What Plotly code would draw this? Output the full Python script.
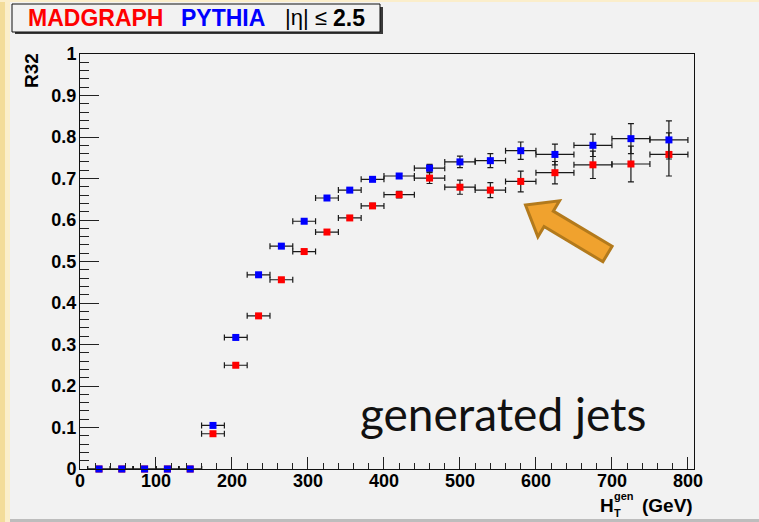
import plotly.graph_objects as go
import math

# ---------------- data ----------------
ht_center = [25, 55, 85, 115, 145, 175, 205, 235, 265, 295, 325, 355, 385,
             420, 460, 500, 540, 580, 625, 675, 725, 775]
ht_halfwidth = [15, 15, 15, 15, 15, 15, 15, 15, 15, 15, 15, 15, 15,
                20, 20, 20, 20, 20, 25, 25, 25, 25]

r32_pythia = [0, 0, 0, 0, 0, 0.105, 0.317, 0.468, 0.537, 0.597, 0.653, 0.672,
              0.698, 0.706, 0.725, 0.740, 0.743, 0.767, 0.758, 0.780, 0.796, 0.793]
err_pythia = [0, 0, 0, 0, 0, 0.003, 0.004, 0.004, 0.004, 0.004, 0.004, 0.004,
              0.005, 0.006, 0.009, 0.014, 0.017, 0.021, 0.025, 0.027, 0.036, 0.046]

r32_madgraph = [0, 0, 0, 0, 0, 0.085, 0.250, 0.369, 0.456, 0.524, 0.571, 0.605,
                0.634, 0.661, 0.701, 0.679, 0.672, 0.693, 0.714, 0.733, 0.735, 0.758]
err_madgraph = [0, 0, 0, 0, 0, 0.003, 0.004, 0.004, 0.004, 0.004, 0.005, 0.005,
                0.006, 0.008, 0.013, 0.017, 0.018, 0.025, 0.027, 0.033, 0.043, 0.052]

# ---------------- geometry helpers ----------------
W, H = 759, 522
L, R, T, B = 80, 694, 54, 469  # plot frame in pixels
PW, PH = R - L, B - T


def px(x):
    return (x - L) / PW


def py(y):
    return (B - y) / PH


BOLD = "Liberation Sans"

fig = go.Figure()

for yv, ev, col in [(r32_madgraph, err_madgraph, "#ff0000"),
                    (r32_pythia, err_pythia, "#0000ff")]:
    fig.add_trace(go.Scatter(
        x=ht_center, y=yv, mode="markers",
        marker=dict(symbol="square", size=7, color=col, line=dict(width=0)),
        error_x=dict(type="data", array=ht_halfwidth, visible=True,
                     color="#1a1a1a", thickness=1.2, width=3),
        error_y=dict(type="data", array=ev, visible=True,
                     color="#1a1a1a", thickness=1.2, width=3),
        cliponaxis=False, showlegend=False))

shapes = []
# slide background strips (cream left / top, grey bottom)
shapes.append(dict(type="rect", xref="paper", yref="paper", layer="below",
                   x0=px(0), x1=px(5), y0=py(H), y1=py(0),
                   fillcolor="#f3dc9a", line=dict(width=0)))
shapes.append(dict(type="rect", xref="paper", yref="paper", layer="below",
                   x0=px(5), x1=px(10), y0=py(H), y1=py(0),
                   fillcolor="#fbeecb", line=dict(width=0)))
shapes.append(dict(type="rect", xref="paper", yref="paper", layer="below",
                   x0=px(0), x1=px(W), y0=py(2), y1=py(0),
                   fillcolor="#fbeecb", line=dict(width=0)))
shapes.append(dict(type="rect", xref="paper", yref="paper", layer="below",
                   x0=px(10), x1=px(W), y0=py(H), y1=py(519),
                   fillcolor="#bdbdbd", line=dict(width=0)))

# legend box with shadow
shapes.append(dict(type="rect", xref="paper", yref="paper",
                   x0=px(15), x1=px(383), y0=py(34), y1=py(7),
                   fillcolor="#3a3a3a", line=dict(width=0)))
shapes.append(dict(type="rect", xref="paper", yref="paper",
                   x0=px(12), x1=px(380), y0=py(32), y1=py(4),
                   fillcolor="#f2f2f2", line=dict(color="#111111", width=1)))

# orange block arrow (pixel geometry)
tip = (525.5, 205.0)
tail = (607.5, 254.0)
dx, dy = tip[0] - tail[0], tip[1] - tail[1]
ln = math.hypot(dx, dy)
ux, uy = dx / ln, dy / ln
nx, ny = -uy, ux
shaft_hw, head_hw, head_len = 9.0, 21.0, 27.0
bx, by = tip[0] - ux * head_len, tip[1] - uy * head_len
pts = [
    (tail[0] + nx * shaft_hw, tail[1] + ny * shaft_hw),
    (bx + nx * shaft_hw, by + ny * shaft_hw),
    (bx + nx * head_hw, by + ny * head_hw),
    tip,
    (bx - nx * head_hw, by - ny * head_hw),
    (bx - nx * shaft_hw, by - ny * shaft_hw),
    (tail[0] - nx * shaft_hw, tail[1] - ny * shaft_hw),
]
path = "M " + " L ".join(f"{px(a):.5f},{py(b):.5f}" for a, b in pts) + " Z"
shapes.append(dict(type="path", xref="paper", yref="paper", path=path,
                   fillcolor="#f0a22e", line=dict(color="#b37a1c", width=3)))

annotations = []


def txt(s, x, y, size, color="#000000", bold=True, xanchor="left",
        family=BOLD, angle=0):
    annotations.append(dict(
        text=s, x=px(x), y=py(y), xref="paper", yref="paper",
        xanchor=xanchor, yanchor="middle", showarrow=False, textangle=angle,
        font=dict(family=family, size=size, color=color,
                  weight="bold" if bold else "normal")))


# legend texts
txt("MADGRAPH", 26, 17.5, 23, color="#ff0000")
txt("PYTHIA", 179, 17.5, 23, color="#0000ff")
txt("|η| ≤", 283, 17.5, 22, bold=False)
txt("2.5", 331, 17.5, 23)

# axis titles
txt("R32", 31, 71, 19, xanchor="center", angle=-90)
txt("H", 598, 505, 19)
txt("gen", 612, 496, 11)
txt("T", 612, 513, 11)
txt("(GeV)", 640, 505, 19)

# big label
txt("generated jets", 358, 413, 46, color="#111111", bold=False, family="Lato")

fig.update_layout(
    width=W, height=H,
    margin=dict(l=L, r=W - R, t=T, b=H - B, pad=0),
    paper_bgcolor="#f2f2f2", plot_bgcolor="#f2f2f2",
    shapes=shapes, annotations=annotations,
    xaxis=dict(range=[0, 808], tickmode="linear", tick0=0, dtick=100,
               ticks="inside", ticklen=12, tickwidth=1, tickcolor="#222222",
               minor=dict(ticks="inside", dtick=20, ticklen=6, tickwidth=1,
                          tickcolor="#222222", showgrid=False),
               showgrid=False, zeroline=False,
               showline=True, linecolor="#111111", linewidth=1, mirror=True,
               tickfont=dict(family=BOLD, size=18, color="#000000", weight="bold"),
               ticklabelstandoff=-5),
    yaxis=dict(range=[0, 1], tickmode="linear", tick0=0, dtick=0.1,
               ticks="inside", ticklen=19, tickwidth=1, tickcolor="#222222",
               minor=dict(ticks="inside", dtick=0.02, ticklen=9, tickwidth=1,
                          tickcolor="#222222", showgrid=False),
               showgrid=False, zeroline=False,
               showline=True, linecolor="#111111", linewidth=1, mirror=True,
               tickfont=dict(family=BOLD, size=18, color="#000000", weight="bold"),
               ticklabelstandoff=-1),
)

fig.write_html("out.html")
